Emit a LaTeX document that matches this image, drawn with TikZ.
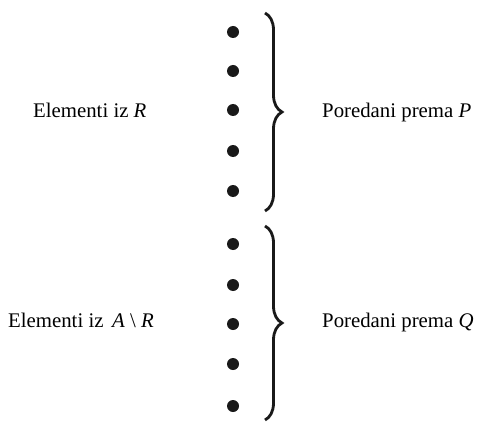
\documentclass[tikz,border=0pt]{standalone}
\usepackage{fontspec}
\setmainfont{Liberation Serif}
\usetikzlibrary{positioning, decorations.pathreplacing}

\begin{document}
\begin{tikzpicture}[x=1pt, y=-1pt,
	dot/.style={circle, fill=black!90, inner sep=0pt, minimum size=12pt},
	txt/.style={anchor=base west, inner sep=0pt, font=\fontsize{20.8}{25}\selectfont},
	curly/.style={decorate, decoration={brace, amplitude=17pt}, line width=2.8pt, black!90}]
	\useasboundingbox (0,0) rectangle (478,422);
	
	% Elements of R
	\foreach \i/\y in {1/32, 2/71, 3/110, 4/151, 5/191}
		\node[dot] (r\i) at (233,\y) {};
	
	% Elements of A \ R
	\foreach \i/\y in {1/244, 2/285, 3/324, 4/364, 5/406}
		\node[dot] (s\i) at (233,\y) {};
	
	% Braces
	\coordinate (rtop) at (265,13);
	\coordinate (rbot) at (265,211);
	\coordinate (stop) at (265,226);
	\coordinate (sbot) at (265,420);
	\draw[curly] (rtop) -- (rbot);
	\draw[curly] (stop) -- (sbot);
	
	% Labels
	\node[txt] (elemR) at (33,117.5) {Elementi iz \textit{R}};
	\node[txt] (elemAR) at (8,327.5) {Elementi iz\, \textit{A} \textbackslash{} \textit{R}};
	\node[txt] (ordP) at (322,117.5) {Poredani prema \textit{P}};
	\node[txt] (ordQ) at (322,327.5) {Poredani prema \textit{Q}};
\end{tikzpicture}
\end{document}
